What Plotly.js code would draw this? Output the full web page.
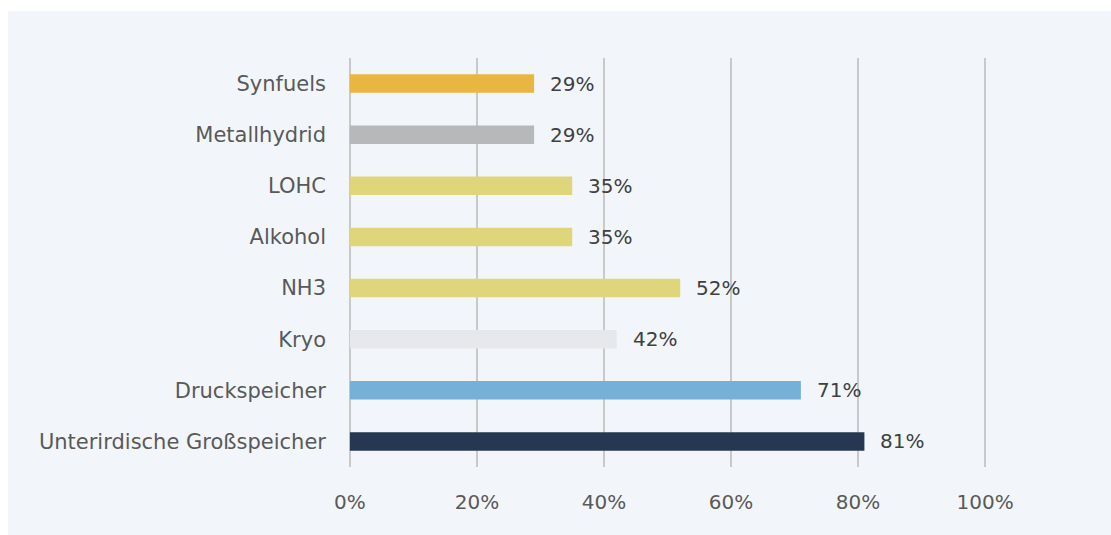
<!DOCTYPE html>
<html>
<head>
<meta charset="utf-8">
<script src="https://cdn.plot.ly/plotly-3.0.1.min.js"></script>
<style>
html,body{margin:0;padding:0;background:#ffffff;width:1111px;height:535px;overflow:hidden;}
#chart{position:absolute;left:8px;top:11px;width:1103px;height:524px;}
</style>
</head>
<body>
<div id="chart"></div>
<script>
const categories = ["Synfuels","Metallhydrid","LOHC","Alkohol","NH3","Kryo","Druckspeicher","Unterirdische Großspeicher"];
const values = [0.29, 0.29, 0.35, 0.35, 0.52, 0.42, 0.71, 0.81];
const labels = ["29%","29%","35%","35%","52%","42%","71%","81%"];
const colors = ["#e9b642","#b6b8ba","#dfd57a","#dfd57a","#dfd57a","#e6e8eb","#77b0d7","#243851"];
const xTickVals = [0,0.2,0.4,0.6,0.8,1.0];
const xTickText = ["0%","20%","40%","60%","80%","100%"];

const font = "DejaVu Sans, Noto Sans, sans-serif";

const trace = {
  type: "bar",
  orientation: "h",
  y: categories,
  x: values,
  width: 0.36,
  marker: {
    color: colors,
    line: {width: 0}
  },
  hoverinfo: "none"
};

const annotations = categories.map((c, i) => ({
  x: values[i], y: c, xref: "x", yref: "y",
  text: labels[i], showarrow: false, xanchor: "left", yanchor: "middle",
  xshift: 14, font: {family: font, size: 20, color: "#404040"}
}));

const layout = {
  width: 1103, height: 524,
  margin: {l: 340, r: 124, t: 47, b: 68},
  paper_bgcolor: "#f2f6fa",
  plot_bgcolor: "#f2f6fa",
  showlegend: false,
  bargap: 0.64,
  xaxis: {
    range: [-0.003, 1.003],
    tickvals: xTickVals, ticktext: xTickText,
    showgrid: true, gridcolor: "#c9c9c9", gridwidth: 2,
    zeroline: false, showline: false,
    ticks: "", ticklabelstandoff: 21,
    tickfont: {family: font, size: 20, color: "#595959"},
    fixedrange: true
  },
  yaxis: {
    autorange: "reversed",
    showgrid: false, zeroline: false, showline: false,
    ticks: "", ticklabelstandoff: 21,
    tickfont: {family: font, size: 21, color: "#595959"},
    fixedrange: true
  },
  annotations: annotations
};

Plotly.newPlot("chart", [trace], layout, {displayModeBar: false, staticPlot: true});
</script>
</body>
</html>
